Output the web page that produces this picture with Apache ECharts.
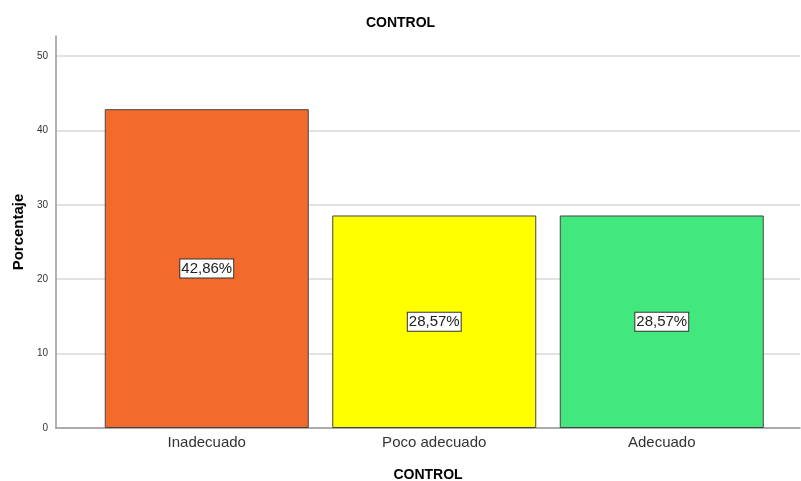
<!DOCTYPE html>
<html>
<head>
<meta charset="utf-8">
<script src="https://cdn.jsdelivr.net/npm/echarts@6/dist/echarts.min.js"></script>
<style>
  html, body { margin: 0; padding: 0; background: #fff; }
  #chart { width: 801px; height: 481px; }
</style>
</head>
<body>
<div id="chart"></div>
<script>
// datos del grafico
let categorias = ['Inadecuado', 'Poco adecuado', 'Adecuado'];
let porcentajes = [42.86, 28.57, 28.57];
let colores = ['#F26A2C', '#FFFF00', '#42E87E'];
let yTicks = [0, 10, 20, 30, 40, 50];

let myChart = echarts.init(document.getElementById('chart'));

let fontBase = 'Arial, "Liberation Sans", sans-serif';
let yMax = 52.7;

// lineas de la grilla: la ultima (en max) transparente
let splitColors = yTicks.map(function () { return '#d9d9d9'; });
splitColors.push('rgba(0,0,0,0)');

let barData = [];
for (let i = 0; i < porcentajes.length; i++) {
    barData.push({
        value: porcentajes[i],
        itemStyle: { color: colores[i] }
    });
}

option = {
    animation: false,
    textStyle: { fontFamily: fontBase },
    title: {
        text: 'CONTROL',
        left: 'center',
        top: 11,
        textStyle: { fontSize: 14, fontWeight: 'bold', color: '#000', fontFamily: fontBase }
    },
    grid: [
        { left: 56, right: 1, top: 36, bottom: 53, outerBoundsMode: 'none', containLabel: false },
        { left: 93, width: 682.5, top: 36, bottom: 53, outerBoundsMode: 'none', containLabel: false }
    ],
    xAxis: [
        {
            gridIndex: 0,
            type: 'value',
            min: 0,
            max: 1,
            axisLine: { show: true, lineStyle: { color: '#999', width: 1.5 } },
            axisTick: { show: false },
            axisLabel: { show: false },
            splitLine: { show: false },
            name: 'CONTROL',
            nameLocation: 'middle',
            nameGap: 40,
            nameTextStyle: { fontSize: 14, fontWeight: 'bold', color: '#000', fontFamily: fontBase }
        },
        {
            gridIndex: 1,
            type: 'category',
            data: categorias,
            axisLine: { show: false },
            axisTick: { show: false },
            axisLabel: { fontSize: 15, color: '#333', margin: 7, fontFamily: fontBase }
        }
    ],
    yAxis: [
        {
            gridIndex: 0,
            type: 'value',
            min: 0,
            max: yMax,
            interval: 10,
            axisLine: { show: true, lineStyle: { color: '#999', width: 1.5 } },
            axisTick: { show: false },
            axisLabel: {
                fontSize: 10,
                color: '#333',
                margin: 8,
                formatter: function (v) { return v % 10 === 0 ? v : ''; }
            },
            splitLine: { show: true, lineStyle: { color: splitColors, width: 1.5 } },
            name: 'Porcentaje',
            nameLocation: 'middle',
            nameGap: 30,
            nameTextStyle: { fontSize: 15, fontWeight: 'bold', color: '#000', fontFamily: fontBase }
        },
        {
            gridIndex: 1,
            type: 'value',
            min: 0,
            max: yMax,
            show: false
        }
    ],
    series: [
        {
            type: 'bar',
            xAxisIndex: 1,
            yAxisIndex: 1,
            barWidth: 204,
            data: barData,
            itemStyle: { borderColor: '#444', borderWidth: 1 },
            label: {
                show: true,
                position: 'inside',
                formatter: function (p) { return p.value.toFixed(2).replace('.', ',') + '%'; },
                fontSize: 15,
                color: '#222',
                fontFamily: fontBase,
                backgroundColor: '#fff',
                borderColor: '#333',
                borderWidth: 1,
                padding: [2, 1, 1, 1]
            }
        }
    ]
};

myChart.setOption(option);
</script>
</body>
</html>
